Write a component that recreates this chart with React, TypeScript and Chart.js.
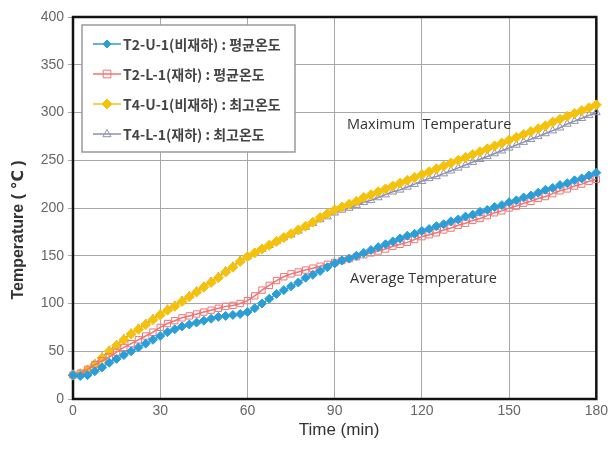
import React, { useEffect, useRef } from "react";
import { Chart, registerables } from "chart.js";

Chart.register(...registerables);

const times = [
  0, 2.5, 5, 7.5, 10, 12.5, 15, 17.5, 20, 22.5, 25, 27.5, 30, 32.5, 35, 37.5, 40, 42.5, 45, 47.5,
  50, 52.5, 55, 57.5, 60, 62.5, 65, 67.5, 70, 72.5, 75, 77.5, 80, 82.5, 85, 87.5, 90, 92.5, 95, 97.5,
  100, 102.5, 105, 107.5, 110, 112.5, 115, 117.5, 120, 122.5, 125, 127.5, 130, 132.5, 135, 137.5,
  140, 142.5, 145, 147.5, 150, 152.5, 155, 157.5, 160, 162.5, 165, 167.5, 170, 172.5, 175, 177.5, 180,
];

const t2u1Avg = [
  25, 24, 25, 29, 33, 38, 42, 46, 50, 54, 58, 62, 66, 70, 73, 76, 78, 80, 82, 84,
  86, 87, 88, 89, 91, 95, 100, 105, 110, 114, 118, 122, 127, 130, 134, 138, 142, 145, 147, 150,
  153, 156, 159, 162, 165, 168, 171, 173, 176, 178, 181, 183, 186, 188, 191, 193,
  196, 198, 201, 203, 206, 208, 211, 213, 216, 219, 221, 224, 226, 229, 231, 234, 237,
];

const t2l1Avg = [
  25, 27, 31, 36, 40, 44, 49, 54, 58, 62, 66, 70, 75, 79, 82, 85, 87, 89, 91, 93,
  95, 97, 98, 100, 103, 108, 114, 119, 124, 128, 131, 133, 135, 137, 139, 141, 143, 145, 147, 149,
  151, 153, 155, 157, 160, 162, 164, 167, 170, 172, 174, 177, 179, 182, 184, 187,
  189, 192, 195, 197, 200, 202, 205, 207, 210, 212, 215, 218, 220, 223, 225, 228, 230,
];

const t4u1Max = [
  25, 26, 30, 36, 43, 50, 56, 62, 68, 73, 78, 83, 88, 93, 97, 102, 107, 112, 117, 122,
  127, 133, 138, 144, 149, 153, 157, 161, 165, 169, 173, 177, 181, 185, 190, 194, 198, 201, 204, 207,
  211, 214, 217, 220, 223, 226, 229, 232, 235, 238, 241, 244, 247, 250, 253, 256,
  259, 262, 265, 268, 271, 274, 277, 280, 283, 286, 290, 293, 296, 299, 302, 305, 308,
];

const t4l1Max = [
  26, 27, 31, 37, 44, 51, 57, 63, 69, 74, 79, 84, 89, 94, 98, 103, 108, 113, 118, 123,
  128, 134, 139, 145, 149, 153, 157, 161, 165, 169, 172, 176, 180, 184, 188, 191, 195, 198, 200, 203,
  206, 208, 211, 214, 217, 219, 222, 225, 228, 231, 233, 236, 239, 242, 245, 248,
  251, 254, 257, 260, 263, 266, 269, 272, 275, 278, 281, 284, 288, 291, 294, 297, 300,
];

const xTicks = [0, 30, 60, 90, 120, 150, 180];
const yTicks = [0, 50, 100, 150, 200, 250, 300, 350, 400];

const seriesNames = [
  "T2-U-1(비재하) : 평균온도",
  "T2-L-1(재하) : 평균온도",
  "T4-U-1(비재하) : 최고온도",
  "T4-L-1(재하) : 최고온도",
];

const BLUE = "#2b9ed8";
const RED = "#f07474";
const GOLD = "#f4c20d";
const GRAY = "#8e90b0";

const tickFont = { family: '"Liberation Sans", Arial, sans-serif', size: 14 };

function drawMarker(ctx: CanvasRenderingContext2D, style: string, x: number, y: number, r: number, fill: string | null, stroke: string) {
  ctx.beginPath();
  if (style === "rectRot") {
    ctx.moveTo(x, y - r);
    ctx.lineTo(x + r, y);
    ctx.lineTo(x, y + r);
    ctx.lineTo(x - r, y);
    ctx.closePath();
  } else if (style === "rect") {
    const s = r * 0.85;
    ctx.rect(x - s, y - s, 2 * s, 2 * s);
  } else if (style === "triangle") {
    ctx.moveTo(x, y - r);
    ctx.lineTo(x + r * 0.9, y + r * 0.6);
    ctx.lineTo(x - r * 0.9, y + r * 0.6);
    ctx.closePath();
  }
  if (fill) {
    ctx.fillStyle = fill;
    ctx.fill();
  }
  ctx.strokeStyle = stroke;
  ctx.lineWidth = 1;
  ctx.stroke();
}

const decorPlugin = {
  id: "decor",
  beforeDatasetsDraw(chart: any) {
    const { ctx, chartArea: a } = chart;
    ctx.save();
    ctx.strokeStyle = "#111";
    ctx.lineWidth = 2.5;
    ctx.strokeRect(a.left, a.top, a.right - a.left, a.bottom - a.top);
    ctx.restore();
  },
  afterDraw(chart: any) {
    const { ctx } = chart;
    ctx.save();
    // axis titles
    ctx.fillStyle = "#333";
    ctx.textAlign = "center";
    ctx.textBaseline = "middle";
    ctx.font = '17px "Liberation Sans", Arial, sans-serif';
    ctx.fillText("Time (min)", 339, 430);
    ctx.save();
    ctx.translate(19, 230);
    ctx.rotate(-Math.PI / 2);
    ctx.font = 'bold 16px "Liberation Sans", "DejaVu Sans", sans-serif';
    ctx.fillText("Temperature ( ℃ )", 0, 0);
    ctx.restore();

    // annotations
    ctx.font = '14.5px "Open Sans", sans-serif';
    ctx.fillStyle = "#333";
    ctx.textAlign = "left";
    ctx.fillText("Maximum  Temperature", 347, 125);
    ctx.fillText("Average Temperature", 350, 279);

    // legend
    const bx = 82, by = 25, bw = 213, bh = 127;
    ctx.fillStyle = "#fff";
    ctx.fillRect(bx, by, bw, bh);
    ctx.strokeStyle = "#9a9a9a";
    ctx.lineWidth = 1.5;
    ctx.strokeRect(bx, by, bw, bh);
    const rows = [44, 74, 104, 134];
    const styles = [
      { style: "rectRot", fill: BLUE, stroke: BLUE, r: 4 },
      { style: "rect", fill: null, stroke: RED, r: 4.5 },
      { style: "rectRot", fill: GOLD, stroke: GOLD, r: 5 },
      { style: "triangle", fill: null, stroke: GRAY, r: 4.5 },
    ];
    rows.forEach((ry, i) => {
      const s = styles[i];
      ctx.strokeStyle = s.stroke;
      ctx.lineWidth = 1.5;
      ctx.beginPath();
      ctx.moveTo(93, ry);
      ctx.lineTo(121, ry);
      ctx.stroke();
      drawMarker(ctx, s.style, 107, ry, s.r, s.fill, s.stroke);
      ctx.fillStyle = "#444";
      ctx.font = 'bold 14px "Noto Sans CJK KR", sans-serif';
      ctx.textAlign = "left";
      ctx.textBaseline = "middle";
      ctx.fillText(seriesNames[i], 123, ry + 1, 164);
    });
    ctx.restore();
  },
};

export default function App() {
  const ref = useRef<HTMLCanvasElement | null>(null);
  useEffect(() => {
    if (!ref.current) return;
    const mk = (vals: number[]) => times.map((t, i) => ({ x: t, y: vals[i] }));
    const chart = new Chart(ref.current, {
      type: "line",
      data: {
        datasets: [
          {
            label: seriesNames[0], data: mk(t2u1Avg), borderColor: BLUE, backgroundColor: BLUE,
            pointStyle: "rectRot", pointRadius: 4.5, pointBorderWidth: 1, borderWidth: 1.5, clip: false, order: 1,
          },
          {
            label: seriesNames[1], data: mk(t2l1Avg), borderColor: RED, backgroundColor: "rgba(0,0,0,0)",
            pointStyle: "rect", pointRadius: 4.5, pointBorderWidth: 1, borderWidth: 1.5, clip: false, order: 2,
          },
          {
            label: seriesNames[2], data: mk(t4u1Max), borderColor: GOLD, backgroundColor: GOLD,
            pointStyle: "rectRot", pointRadius: 5, pointBorderWidth: 1, borderWidth: 1.5, clip: false, order: 3,
          },
          {
            label: seriesNames[3], data: mk(t4l1Max), borderColor: GRAY, backgroundColor: "rgba(0,0,0,0)",
            pointStyle: "triangle", pointRadius: 4.5, pointBorderWidth: 1, borderWidth: 1.5, clip: false, order: 4,
          },
        ],
      },
      options: {
        animation: false,
        responsive: false,
        layout: { padding: { top: 17, right: 13, left: 0, bottom: 0 } },
        scales: {
          x: {
            type: "linear", min: 0, max: 180,
            afterBuildTicks: (s: any) => { s.ticks = xTicks.map((v) => ({ value: v })); },
            ticks: { font: tickFont, color: "#666", padding: 4, maxRotation: 0, autoSkip: false },
            grid: { color: "#a8a8a8", lineWidth: 1, tickLength: 0 },
            border: { display: false },
            afterFit: (s: any) => { s.height = 57; },
          },
          y: {
            min: 0, max: 400,
            afterBuildTicks: (s: any) => { s.ticks = yTicks.map((v) => ({ value: v })); },
            ticks: { font: tickFont, color: "#666", padding: 4 },
            grid: { color: "#a8a8a8", lineWidth: 1, tickLength: 5 },
            border: { display: false },
            afterFit: (s: any) => { s.width = 73; },
          },
        },
        plugins: { legend: { display: false }, tooltip: { enabled: false } },
      },
      plugins: [decorPlugin],
    } as any);
    return () => chart.destroy();
  }, []);
  return (
    <div style={{ position: "fixed", left: 0, top: 0, width: 612, height: 456, background: "#fff" }}>
      <canvas ref={ref} width={612} height={456} style={{ width: 612, height: 456 }} />
    </div>
  );
}
